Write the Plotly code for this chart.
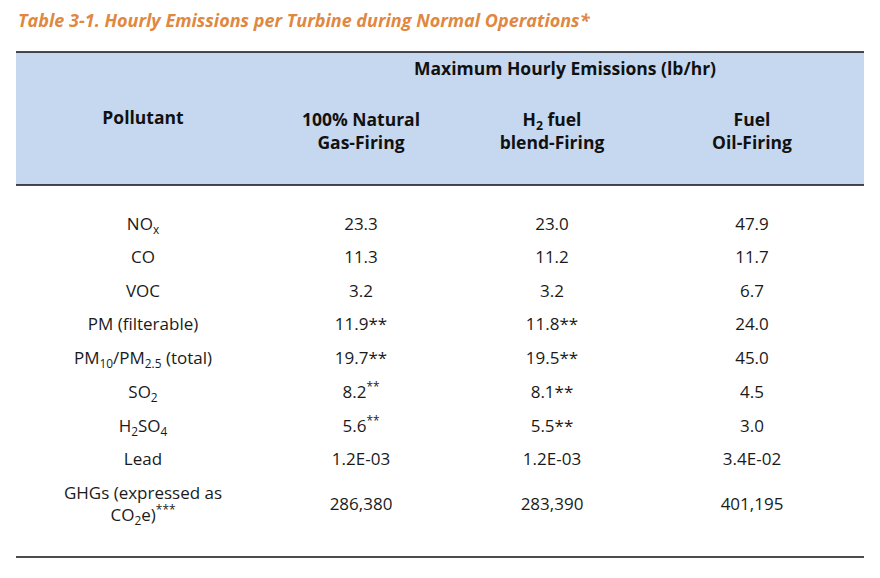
import plotly.graph_objects as go

title = "Table 3-1. Hourly Emissions per Turbine during Normal Operations*"
group_header = "Maximum Hourly Emissions (lb/hr)"
columns = ["Pollutant", "100% Natural<br>Gas-Firing", "H<sub>2</sub> fuel<br>blend-Firing", "Fuel<br>Oil-Firing"]

pollutants = ["NO<sub>x</sub>", "CO", "VOC", "PM (filterable)", "PM<sub>10</sub>/PM<sub>2.5</sub> (total)",
              "SO<sub>2</sub>", "H<sub>2</sub>SO<sub>4</sub>", "Lead", "GHGs (expressed as<br>CO<sub>2</sub>e)<sup>***</sup>"]
natural_gas = ["23.3", "11.3", "3.2", "11.9**", "19.7**", "8.2<sup>**</sup>", "5.6<sup>**</sup>", "1.2E-03", "286,380"]
h2_blend = ["23.0", "11.2", "3.2", "11.8**", "19.5**", "8.1**", "5.5**", "1.2E-03", "283,390"]
fuel_oil = ["47.9", "11.7", "6.7", "24.0", "45.0", "4.5", "3.0", "3.4E-02", "401,195"]

W, H = 880, 578
OFF = 8  # page body margin
row_y = [226, 259, 293, 326, 360, 394, 428, 461, 506]
col_x = [143, 361, 552, 752]
head_y = [120, 133, 133, 133]
font = "Open Sans"

fig = go.Figure()
fig.add_shape(type="rect", x0=16, x1=864, y0=52, y1=185, fillcolor="#C6D8EF", line_width=0, layer="below")
for y in (52, 185, 557):
    fig.add_shape(type="line", x0=16, x1=864, y0=y, y1=y, line=dict(color="#111111", width=1.5))

for x, vals in zip(col_x, [pollutants, natural_gas, h2_blend, fuel_oil]):
    fig.add_trace(go.Scatter(x=[x] * len(vals), y=row_y, mode="text", text=vals,
                             textfont=dict(family=font, size=17, color="#1a1a1a"),
                             showlegend=False, hoverinfo="skip"))

fig.add_trace(go.Scatter(x=col_x, y=head_y, mode="text",
                         text=[f"<b>{c}</b>" for c in columns],
                         textfont=dict(family=font, size=17.5, color="#111111"),
                         showlegend=False, hoverinfo="skip"))

fig.add_annotation(x=565, y=68, text=f"<b>{group_header}</b>", showarrow=False,
                   font=dict(family=font, size=17.5, color="#111111"))
fig.add_annotation(x=16, y=20, xanchor="left", text=f"<b><i>{title}</i></b>", showarrow=False,
                   font=dict(family=font, size=18, color="#E0883F"))

fig.update_layout(
    width=W, height=H, margin=dict(l=0, r=0, t=0, b=0),
    plot_bgcolor="white", paper_bgcolor="white",
    xaxis=dict(range=[OFF, W + OFF], visible=False, fixedrange=True),
    yaxis=dict(range=[H + OFF, OFF], visible=False, fixedrange=True),
)
fig.write_html("out.html")
